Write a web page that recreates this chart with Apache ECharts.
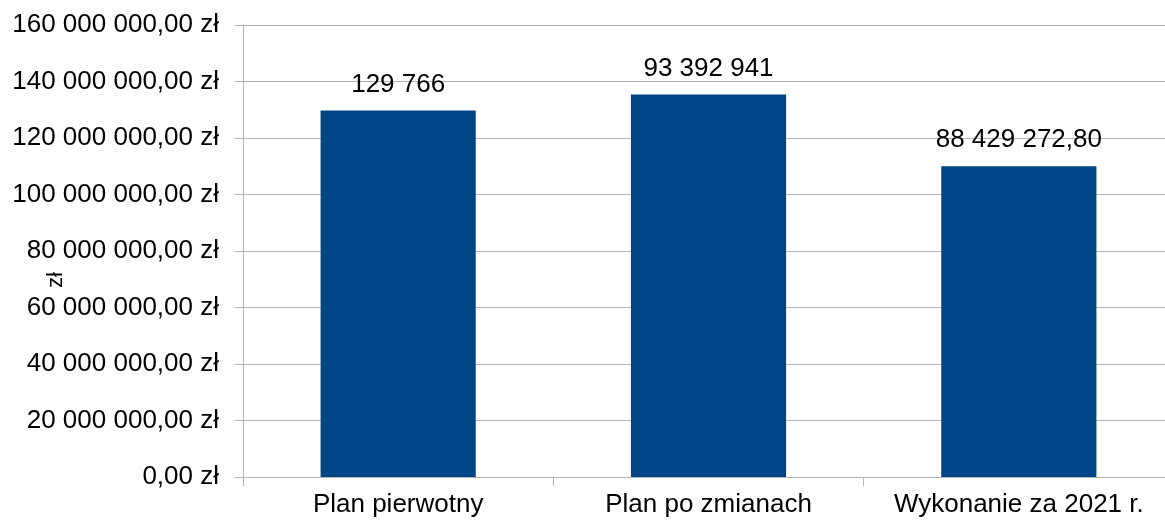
<!DOCTYPE html>
<html>
<head>
<meta charset="utf-8">
<script src="https://cdn.jsdelivr.net/npm/echarts@6/dist/echarts.min.js"></script>
<style>
html,body{margin:0;padding:0;background:#fff;}
#chart{width:1165px;height:522px;}
</style>
</head>
<body>
<div id="chart"></div>
<script>
const categories = ['Plan pierwotny', 'Plan po zmianach', 'Wykonanie za 2021 r.'];
const values = [129766000, 135400000, 110000000];
const valueLabels = ['129 766', '93 392 941', '88 429 272,80'];
const yTickLabels = ['0,00 zł', '20 000 000,00 zł', '40 000 000,00 zł', '60 000 000,00 zł',
  '80 000 000,00 zł', '100 000 000,00 zł', '120 000 000,00 zł', '140 000 000,00 zł', '160 000 000,00 zł'];
const yStep = 20000000;
const yMax = 160000000;
const yAxisName = 'zł';

const FONT = 'Liberation Sans';
const chart = echarts.init(document.getElementById('chart'), null, {renderer: 'canvas'});
chart.setOption({
  animation: false,
  backgroundColor: '#ffffff',
  grid: {left: 243, top: 25, bottom: 45, width: 931, containLabel: false, outerBoundsMode: 'none'},
  xAxis: {
    type: 'category',
    data: categories,
    axisLine: {show: true, lineStyle: {color: '#b3b3b3', width: 1}},
    axisTick: {show: true, length: 9, lineStyle: {color: '#b3b3b3'}},
    axisLabel: {color: '#000', fontFamily: FONT, fontSize: 26, margin: 15, interval: 0, hideOverlap: false}
  },
  yAxis: {
    type: 'value',
    min: 0, max: yMax, interval: yStep,
    axisLine: {show: true, lineStyle: {color: '#b3b3b3', width: 1}},
    axisTick: {show: true, length: 8, lineStyle: {color: '#b3b3b3'}},
    splitLine: {show: true, lineStyle: {color: '#b3b3b3', width: 1}},
    axisLabel: {
      color: '#000', fontFamily: FONT, fontSize: 26, margin: 24,
      formatter: function (v) { return yTickLabels[Math.round(v / yStep)]; }
    }
  },
  graphic: [{
    type: 'text',
    x: 56, y: 280,
    rotation: Math.PI / 2,
    style: {text: yAxisName, fill: '#000', font: '22px "Liberation Sans"', align: 'center', verticalAlign: 'middle'}
  }],
  series: [{
    type: 'bar',
    data: values,
    barWidth: '50%',
    itemStyle: {color: '#004586'},
    label: {
      show: true, position: 'top', distance: 13,
      color: '#000', fontFamily: FONT, fontSize: 26,
      formatter: function (p) { return valueLabels[p.dataIndex]; }
    }
  }]
});
</script>
</body>
</html>
